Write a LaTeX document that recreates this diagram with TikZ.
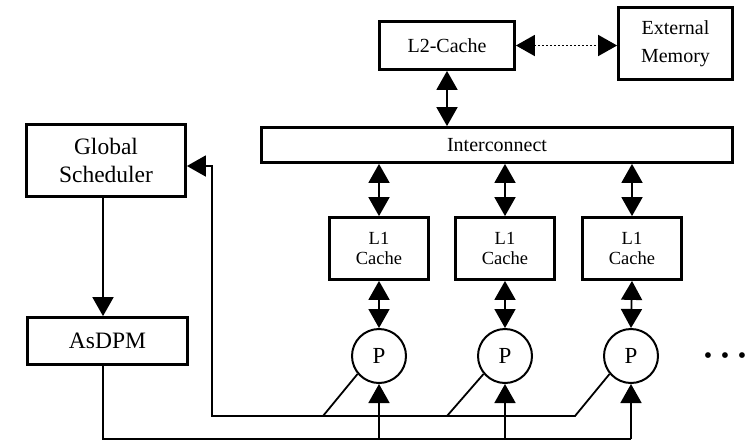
\documentclass[tikz,border=0pt]{standalone}
\usepackage{fontspec}
\setmainfont{Liberation Serif}
\usetikzlibrary{arrows.meta}
\begin{document}
\begin{tikzpicture}[x=1pt,y=-1pt,
  box/.style={draw,line width=2.8pt,inner sep=0pt,align=center},
  conn/.style={line width=1.8pt},
  arr/.style={conn,-{Triangle[length=19pt,width=21pt]}},
  dbl/.style={conn,{Triangle[length=19pt,width=21pt]}-{Triangle[length=19pt,width=21pt]}},
  dotarr/.style={dbl,dash pattern=on 2pt off 2pt},
  proc/.style={draw,circle,line width=2pt,minimum size=54pt,inner sep=0pt,font=\fontsize{23}{23}\selectfont},
  bigtxt/.style={font=\fontsize{23.5}{28}\selectfont},
  midtxt/.style={font=\fontsize{20}{28}\selectfont},
  smalltxt/.style={font=\fontsize{18.5}{20.5}\selectfont}]
\useasboundingbox (0,0) rectangle (747,440);

\node[box,midtxt,minimum width=135pt,minimum height=48pt] (l2) at (447,45.5) {L2-Cache};
\node[box,midtxt,minimum width=114pt,minimum height=72pt] (ext) at (675.5,43.5) {External\\Memory};
\node[box,font=\fontsize{20}{20}\selectfont,minimum width=471pt,minimum height=35pt] (ic) at (497,145) {Interconnect};
\node[box,bigtxt,minimum width=159pt,minimum height=72pt] (gs) at (106,160.5) {Global\\Scheduler};
\node[box,bigtxt,minimum width=160pt,minimum height=47pt] (asdpm) at (107.5,341) {AsDPM};

\node[box,smalltxt,minimum width=99pt,minimum height=62pt] (l1a) at (379,248.5) {L1\\Cache};
\node[box,smalltxt,minimum width=99pt,minimum height=62pt] (l1b) at (505,248.5) {L1\\Cache};
\node[box,smalltxt,minimum width=99pt,minimum height=62pt] (l1c) at (632,248.5) {L1\\Cache};

\node[proc] (p1) at (379,356) {P};
\node[proc] (p2) at (505,356) {P};
\node[proc] (p3) at (631,356) {P};

\node[inner sep=0pt,font=\fontsize{24}{24}\selectfont] (dots) at (725,358) {\textbullet\hspace{8.6pt}\textbullet\hspace{8.6pt}\textbullet};

\coordinate (c0) at (103,439);
\coordinate (c1) at (212,416);
\coordinate (d1) at (323,416);
\coordinate (d2) at (447,416);
\coordinate (d3) at (575,416);
\coordinate (gsin) at ([yshift=-5.5pt]gs.east);

% top connectors
\draw[dotarr] (l2.east) -- (l2.east -| ext.west);
\draw[dbl] (l2.south) -- (l2.south |- ic.north);
\draw[dbl] (l1a.north |- ic.south) -- (l1a.north);
\draw[dbl] (l1b.north |- ic.south) -- (l1b.north);
\draw[dbl] (l1c.north |- ic.south) -- (l1c.north);
\draw[dbl] (l1a.south) -- (p1.north);
\draw[dbl] (l1b.south) -- (p2.north);
\draw[dbl] (l1c.south) -- (p3.north);

% scheduler to AsDPM
\draw[arr] (gs.south -| c0) -- (asdpm.north -| c0);

% feedback from processors to scheduler
\draw[conn] (p1.220) -- (d1);
\draw[conn] (p2.220) -- (d2);
\draw[arr] (p3.220) -- (d3) -- (c1) -- (c1 |- gsin) -- (gsin);

% AsDPM to processors
\draw[conn] (asdpm.south -| c0) -- (c0) -- (c0 -| p3);
\draw[arr] (c0 -| p1) -- (p1.south);
\draw[arr] (c0 -| p2) -- (p2.south);
\draw[arr] (c0 -| p3) -- (p3.south);
\end{tikzpicture}
\end{document}
